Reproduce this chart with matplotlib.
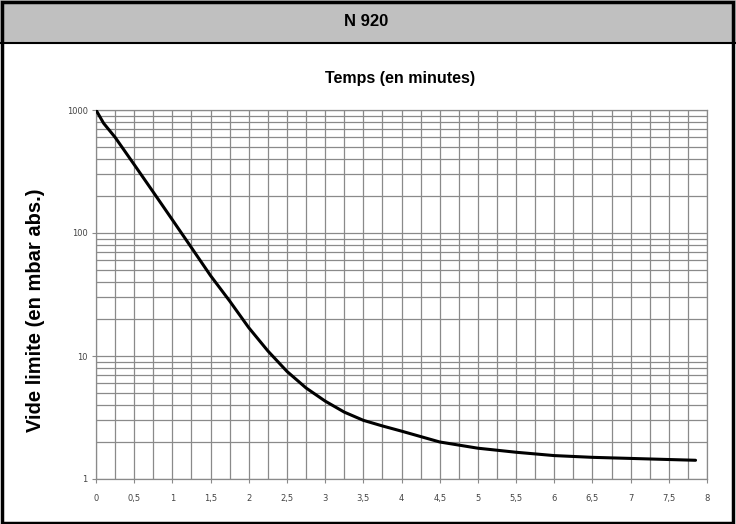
import matplotlib
matplotlib.use("Agg")
import matplotlib.pyplot as plt
from matplotlib.ticker import MultipleLocator, FixedLocator, NullFormatter
from matplotlib.patches import Rectangle
from matplotlib.lines import Line2D

# ===============================
# Data
# ===============================
TIME_MIN = [0, 0.1, 0.25, 0.5, 0.75, 1.0, 1.25, 1.5, 1.75, 2.0, 2.25, 2.5,
            2.75, 3.0, 3.25, 3.5, 3.75, 4.0, 4.5, 5.0, 5.5, 6.0, 6.5, 7.0,
            7.5, 7.85]
VACUUM_MBAR = [1000, 780, 600, 360, 215, 128, 76, 45, 28, 17, 11, 7.5,
               5.5, 4.3, 3.5, 3.0, 2.7, 2.45, 2.0, 1.78, 1.65, 1.55, 1.5,
               1.47, 1.44, 1.42]

X_TICKS = [0, 0.5, 1, 1.5, 2, 2.5, 3, 3.5, 4, 4.5, 5, 5.5, 6, 6.5, 7, 7.5, 8]
X_LABELS = ["0", "0,5", "1", "1,5", "2", "2,5", "3", "3,5", "4", "4,5",
            "5", "5,5", "6", "6,5", "7", "7,5", "8"]
Y_TICKS = [1, 10, 100, 1000]
Y_LABELS = ["1", "10", "100", "1000"]

TITLE = "N 920"
X_TITLE = "Temps (en minutes)"
Y_TITLE = "Vide limite (en mbar abs.)"

FONT = ["Liberation Sans Narrow", "Liberation Sans", "DejaVu Sans"]

# ===============================
# Figure & frame
# ===============================
W, H = 736, 524
fig = plt.figure(figsize=(W / 100, H / 100), dpi=100)
fig.patch.set_facecolor("white")

# grey header band
fig.patches.append(Rectangle((0, 1 - 43 / H), 1, 43 / H, transform=fig.transFigure,
                             facecolor="#c0c0c0", edgecolor="none", zorder=0))
fig.lines.append(Line2D([0, 1], [1 - 43 / H, 1 - 43 / H], transform=fig.transFigure,
                        color="black", lw=1.5))
# outer border
fig.patches.append(Rectangle((1.5 / W, 1.5 / H), 1 - 5 / W, 1 - 3 / H,
                             transform=fig.transFigure, facecolor="none",
                             edgecolor="black", lw=2.5, zorder=5))

fig.text(0.497, 1 - 22 / H, TITLE, ha="center", va="center", fontsize=12,
         fontweight="bold", family=FONT)
fig.text(0.543, 1 - 78 / H, X_TITLE, ha="center", va="center", fontsize=11.5,
         fontweight="bold", family=FONT)
fig.text(36 / W, 1 - 310 / H, Y_TITLE, ha="center", va="center", fontsize=14.5,
         fontweight="bold", rotation=90, family=FONT)

# ===============================
# Plot
# ===============================
ax = fig.add_axes([96 / W, 1 - 479 / H, (707 - 96) / W, (479 - 110) / H])
ax.plot(TIME_MIN, VACUUM_MBAR, color="black", lw=2.2, solid_capstyle="round", zorder=3)

ax.set_yscale("log")
ax.set_xlim(0, 8)
ax.set_ylim(1, 1000)

ax.xaxis.set_major_locator(FixedLocator(X_TICKS))
ax.set_xticklabels(X_LABELS)
ax.xaxis.set_minor_locator(MultipleLocator(0.25))
ax.yaxis.set_major_locator(FixedLocator(Y_TICKS))
ax.set_yticklabels(Y_LABELS)
minor_y = [m * 10 ** e for e in range(0, 3) for m in range(2, 10)]
ax.yaxis.set_minor_locator(FixedLocator(minor_y))
ax.yaxis.set_minor_formatter(NullFormatter())

ax.grid(which="both", color="#8a8a8a", lw=0.9)
ax.set_axisbelow(True)
for s in ax.spines.values():
    s.set_color("#8a8a8a")
    s.set_linewidth(0.9)

ax.tick_params(axis="both", which="both", length=3, color="#8a8a8a",
               labelcolor="#444444", labelsize=6)
ax.tick_params(axis="x", which="major", pad=8)
ax.tick_params(axis="y", which="major", pad=3)
ax.tick_params(which="minor", length=0)

fig.savefig("out.png", dpi=100)
